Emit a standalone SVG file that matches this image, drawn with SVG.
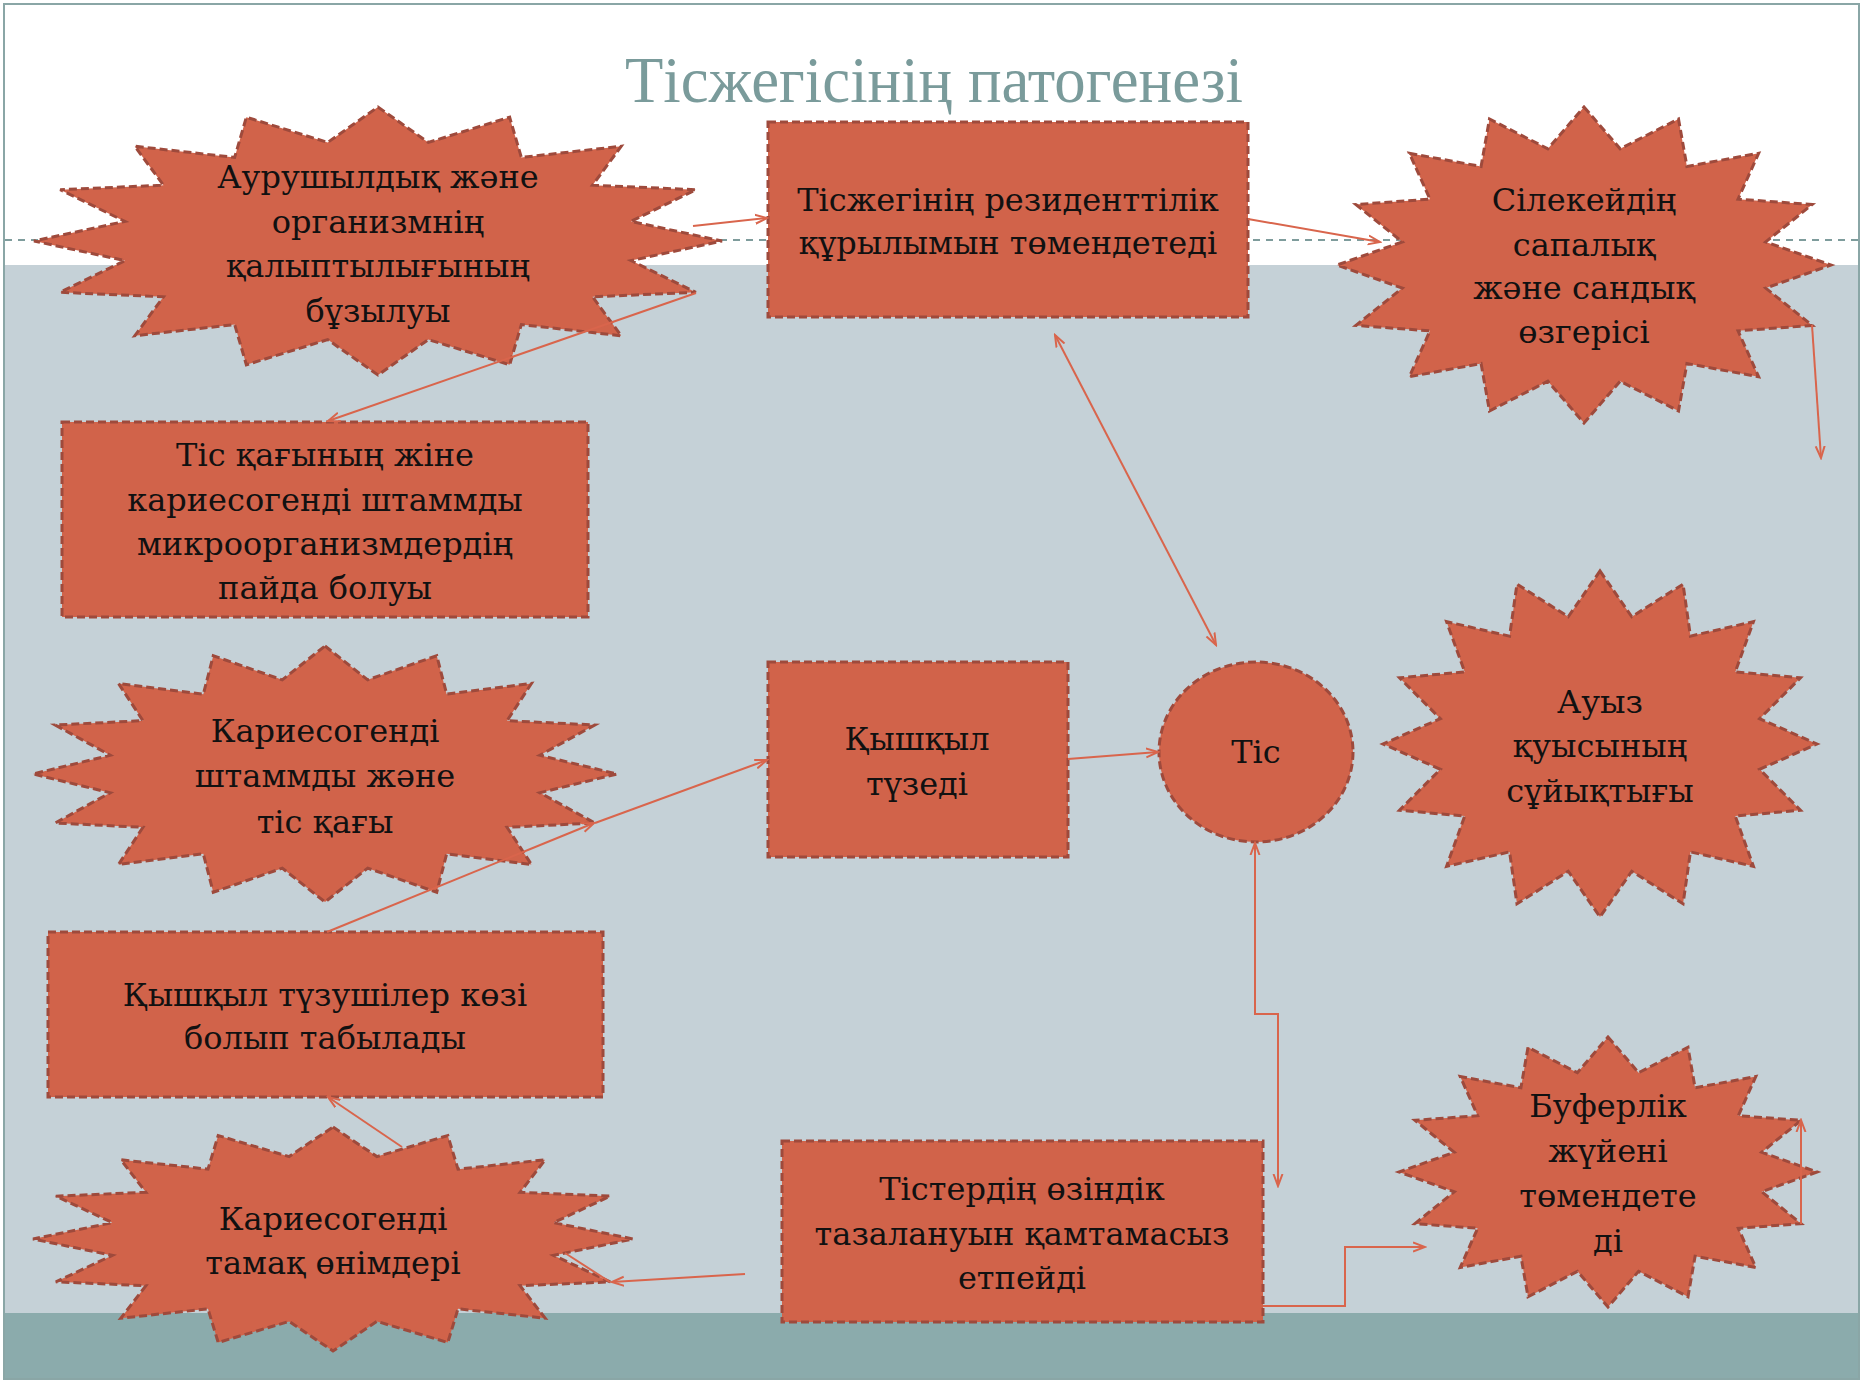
<svg xmlns="http://www.w3.org/2000/svg" xmlns:xlink="http://www.w3.org/1999/xlink" width="1865" height="1383" viewBox="0 0 1865 1383">
<style>
.shape{fill:#D1634A;stroke:#9E4A3C;stroke-width:3;stroke-dasharray:8 4}
.star{fill:#D1634A;stroke:#9E4A3C;stroke-width:3;stroke-dasharray:8 4;vector-effect:non-scaling-stroke}
.lbl{font-family:"DejaVu Serif","Liberation Serif",serif;font-size:32px;fill:#111;text-anchor:middle}
.title{font-family:"Liberation Serif","DejaVu Serif",serif;font-size:66px;fill:#7A9B9B}
.conn{fill:none;stroke:#D9654C;stroke-width:2}
</style>
<defs>
<path id="star16" class="star" d="M0,-1 L0.14632,-0.73559 L0.38268,-0.92388 L0.41668,-0.6236 L0.70711,-0.70711 L0.6236,-0.41668 L0.92388,-0.38268 L0.73559,-0.14632 L1,0 L0.73559,0.14632 L0.92388,0.38268 L0.6236,0.41668 L0.70711,0.70711 L0.41668,0.6236 L0.38268,0.92388 L0.14632,0.73559 L0,1 L-0.14632,0.73559 L-0.38268,0.92388 L-0.41668,0.6236 L-0.70711,0.70711 L-0.6236,0.41668 L-0.92388,0.38268 L-0.73559,0.14632 L-1,0 L-0.73559,-0.14632 L-0.92388,-0.38268 L-0.6236,-0.41668 L-0.70711,-0.70711 L-0.41668,-0.6236 L-0.38268,-0.92388 L-0.14632,-0.73559 Z"/>
<marker id="arr" markerUnits="userSpaceOnUse" markerWidth="14" markerHeight="12" refX="12" refY="5" orient="auto-start-reverse" viewBox="0 0 14 10">
<path d="M0,0.5 L12,5 L0,9.5" fill="none" stroke="#D9654C" stroke-width="2"/>
</marker>
</defs>
<g id="background">
<rect x="0" y="0" width="1865" height="1383" fill="#FFFFFF"/>
<rect x="4" y="265" width="1855" height="1048" fill="#C5D1D7"/>
<rect x="4" y="1313" width="1855" height="66" fill="#8BABAC"/>
<rect x="4" y="4" width="1855" height="1375" fill="none" stroke="#8AA6A6" stroke-width="2"/>
<line x1="5" y1="240" x2="1858" y2="240" stroke="#7E9C9C" stroke-width="2" stroke-dasharray="7 6"/>
<text class="title" x="625" y="102" textLength="618" lengthAdjust="spacingAndGlyphs">Тісжегісінің патогенезі</text>
</g>
<g id="n1">
<use xlink:href="#star16" transform="translate(378 241) scale(344 134)"/>
<text class="lbl"><tspan x="378" y="188">Аурушылдық және</tspan><tspan x="378" y="233">организмнің</tspan><tspan x="378" y="277">қалыптылығының</tspan><tspan x="378" y="322">бұзылуы</tspan></text>
</g>
<g id="n2">
<rect class="shape" x="768" y="122" width="480" height="195"/>
<text class="lbl"><tspan x="1008" y="211">Тісжегінің резиденттілік</tspan><tspan x="1008" y="254">құрылымын төмендетеді</tspan></text>
</g>
<g id="n3">
<use xlink:href="#star16" transform="translate(1584 265) scale(247 158)"/>
<text class="lbl"><tspan x="1584" y="211">Сілекейдің</tspan><tspan x="1584" y="256">сапалық</tspan><tspan x="1584" y="299">және сандық</tspan><tspan x="1584" y="343">өзгерісі</tspan></text>
</g>
<g id="n4">
<rect class="shape" x="62" y="422" width="526" height="195"/>
<text class="lbl"><tspan x="325" y="466">Тіс қағының жіне</tspan><tspan x="325" y="511">кариесогенді штаммды</tspan><tspan x="325" y="555">микроорганизмдердің</tspan><tspan x="325" y="599">пайда болуы</tspan></text>
</g>
<g id="n5">
<use xlink:href="#star16" transform="translate(325 774) scale(292 128)"/>
<text class="lbl"><tspan x="325" y="742">Кариесогенді</tspan><tspan x="325" y="787">штаммды және</tspan><tspan x="325" y="833">тіс қағы</tspan></text>
</g>
<g id="n6">
<rect class="shape" x="768" y="662" width="300" height="195"/>
<text class="lbl"><tspan x="917" y="750">Қышқыл</tspan><tspan x="917" y="795">түзеді</tspan></text>
</g>
<g id="n7">
<ellipse class="shape" cx="1256" cy="752" rx="97" ry="90"/>
<text class="lbl" x="1256" y="763">Тіс</text>
</g>
<g id="n8">
<use xlink:href="#star16" transform="translate(1600 744) scale(217 173)"/>
<text class="lbl"><tspan x="1600" y="713">Ауыз</tspan><tspan x="1600" y="757">қуысының</tspan><tspan x="1600" y="802">сұйықтығы</tspan></text>
</g>
<g id="n9">
<rect class="shape" x="48" y="932" width="555" height="165"/>
<text class="lbl"><tspan x="325" y="1006">Қышқыл түзушілер көзі</tspan><tspan x="325" y="1049">болып табылады</tspan></text>
</g>
<g id="n10">
<use xlink:href="#star16" transform="translate(333 1239) scale(300 112)"/>
<text class="lbl"><tspan x="333" y="1230">Кариесогенді</tspan><tspan x="333" y="1274">тамақ өнімдері</tspan></text>
</g>
<g id="n11">
<rect class="shape" x="782" y="1141" width="481" height="181"/>
<text class="lbl"><tspan x="1022" y="1200">Тістердің өзіндік</tspan><tspan x="1022" y="1245">тазалануын қамтамасыз</tspan><tspan x="1022" y="1289">етпейді</tspan></text>
</g>
<g id="n12">
<use xlink:href="#star16" transform="translate(1608 1172) scale(209 135)"/>
<text class="lbl"><tspan x="1608" y="1117">Буферлік</tspan><tspan x="1608" y="1162">жүйені</tspan><tspan x="1608" y="1207">төмендете</tspan><tspan x="1608" y="1252">ді</tspan></text>
</g>
<g id="connectors">
<line class="conn" x1="693" y1="226" x2="767" y2="218" marker-end="url(#arr)"/>
<line class="conn" x1="1248" y1="219" x2="1380" y2="242" marker-end="url(#arr)"/>
<line class="conn" x1="1812" y1="325" x2="1821" y2="458" marker-end="url(#arr)"/>
<line class="conn" x1="696" y1="293" x2="328" y2="421" marker-end="url(#arr)"/>
<line class="conn" x1="1055" y1="335" x2="1216" y2="645" marker-start="url(#arr)" marker-end="url(#arr)"/>
<line class="conn" x1="327" y1="932" x2="594" y2="823" marker-end="url(#arr)"/>
<line class="conn" x1="595" y1="823" x2="767" y2="760" marker-end="url(#arr)"/>
<line class="conn" x1="1068" y1="759" x2="1158" y2="752" marker-end="url(#arr)"/>
<path class="conn" d="M1255,843 V1014 H1278 V1186" marker-start="url(#arr)" marker-end="url(#arr)"/>
<path class="conn" d="M1263,1306 H1345 V1247 H1425" marker-end="url(#arr)"/>
<line class="conn" x1="1801" y1="1224" x2="1801" y2="1120" marker-end="url(#arr)"/>
<line class="conn" x1="745" y1="1274" x2="612" y2="1282" marker-end="url(#arr)"/>
<line class="conn" x1="565" y1="1253" x2="610" y2="1282"/>
<line class="conn" x1="402" y1="1147" x2="328" y2="1097" marker-end="url(#arr)"/>
</g>
</svg>
